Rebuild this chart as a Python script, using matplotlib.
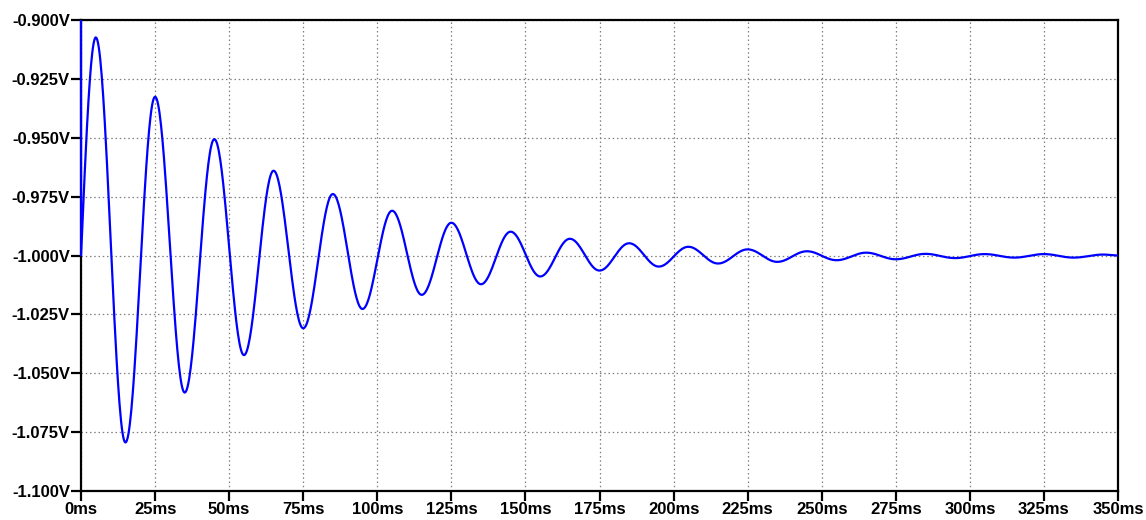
import numpy as np
import matplotlib
matplotlib.use("Agg")
import matplotlib.pyplot as plt
from matplotlib.ticker import FuncFormatter

# Transient response: local extrema of the ringing node voltage
extrema_ms = [5, 15, 25, 35, 45, 55, 65, 75, 85, 95, 105, 115, 125, 135,
              145, 155, 165, 175, 185, 195, 205, 215, 225, 235, 245, 255,
              265, 275, 285, 295, 305, 315, 325, 335, 345]
extrema_v = [-0.9074, -1.0794, -0.9326, -1.0582, -0.9506, -1.0423, -0.9640,
             -1.0309, -0.9739, -1.0227, -0.9810, -1.0167, -0.9861, -1.0122,
             -0.9899, -1.0089, -0.9929, -1.0064, -0.9948, -1.0047, -0.9963,
             -1.0034, -0.9974, -1.0027, -0.9982, -1.0020, -0.9988, -1.0016,
             -0.9993, -1.0011, -0.9994, -1.0009, -0.9994, -1.0009, -0.9996]
# initial step at t=0 (top of the scale) and settling point at the end
start_ms = [0.0, 0.02]
start_v = [-0.900, -1.000]
end_ms = 350
end_v = -1.000

x_ticks_ms = [0, 25, 50, 75, 100, 125, 150, 175, 200, 225, 250, 275, 300, 325, 350]
y_ticks_v = [-1.100, -1.075, -1.050, -1.025, -1.000, -0.975, -0.950, -0.925, -0.900]


def sinusoidal_segments(knots_t, knots_v, n=40):
    """Join successive extrema with half-cosine arcs (sinusoidal shape)."""
    ts, vs = [], []
    for (t0, v0), (t1, v1) in zip(zip(knots_t[:-1], knots_v[:-1]),
                                  zip(knots_t[1:], knots_v[1:])):
        s = np.linspace(0, 1, n, endpoint=False)
        ts.append(t0 + (t1 - t0) * s)
        vs.append(v0 + (v1 - v0) * (1 - np.cos(np.pi * s)) / 2)
    ts.append([knots_t[-1]])
    vs.append([knots_v[-1]])
    return np.concatenate(ts), np.concatenate(vs)


# rising quarter-wave from the settled value up to the first peak
q = np.linspace(0, 1, 40, endpoint=False)
t_rise = start_ms[1] + (extrema_ms[0] - start_ms[1]) * q
v_rise = start_v[1] + (extrema_v[0] - start_v[1]) * np.sin(np.pi / 2 * q)

t_osc, v_osc = sinusoidal_segments(extrema_ms + [end_ms], extrema_v + [end_v])

t = np.concatenate([start_ms[:1], t_rise, t_osc])
v = np.concatenate([start_v[:1], v_rise, v_osc])

plt.rcParams['font.family'] = ['Liberation Sans', 'DejaVu Sans']

fig = plt.figure(figsize=(11.46, 5.20), dpi=100)
ax = fig.add_axes([81 / 1146, 1 - 491 / 520, (1118 - 81) / 1146, (491 - 20) / 520])

ax.plot(t, v, color=(0, 0, 1), lw=1.6, clip_on=False, zorder=3,
        solid_capstyle="butt")

ax.set_xlim(0, 350)
ax.set_ylim(-1.100, -0.900)
ax.set_xticks(x_ticks_ms)
ax.set_yticks(y_ticks_v)
ax.xaxis.set_major_formatter(FuncFormatter(lambda x, _: f"{x:.0f}ms"))
ax.yaxis.set_major_formatter(FuncFormatter(lambda y, _: f"{y:.3f}V"))

ax.grid(True, color="#808080", linestyle=(0, (1.2, 2.2)), linewidth=0.9)
ax.set_axisbelow(True)
for sp in ax.spines.values():
    sp.set_linewidth(1.6)
    sp.set_color("black")

ax.tick_params(axis="both", direction="out", length=7.5, width=1.6,
               color="black", pad=0.5)
for lab in ax.get_xticklabels() + ax.get_yticklabels():
    lab.set_fontweight("bold")
    lab.set_fontsize(12)

fig.savefig("out.png", dpi=100, facecolor="white")
